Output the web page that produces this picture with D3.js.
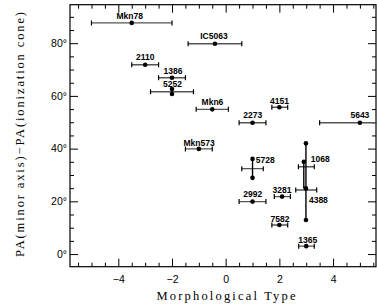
<!DOCTYPE html>
<html>
<head>
<meta charset="utf-8">
<script src="https://cdn.jsdelivr.net/npm/d3@7"></script>
<style>
  body { margin: 0; background: #fff; }
  svg { display: block; }
  .lbl { font-family: "Liberation Sans", Arial, sans-serif; font-weight: bold; font-size: 8.5px; }
  .tick text { font-family: "Liberation Sans", Arial, sans-serif; font-size: 10.5px; fill: #000; }
  .title { font-family: "Liberation Serif", "Times New Roman", serif; font-size: 12.5px; }
</style>
</head>
<body>
<svg id="chart" width="377" height="308"></svg>
<script>
// galaxy names and morphological type (x) with its range
var names  = ["Mkn78","IC5063","2110","1386","5252","Mkn6","4151","2273","5643","Mkn573","5728","1068","4388","2992","3281","7582","1365"];
var types  = [-3.5, -0.4, -3.0, -2.0, -2.0, -0.5, 2.0, 1.0, 5.0, -1.0, 1.0, 2.91, 2.99, 1.0, 2.1, 2.0, 3.0];
var typeLo = [-5.0, -1.4, -3.5, -2.5, -2.8, -1.1, 1.72, 0.5, 3.5, -1.5, 0.6, 2.71, 2.61, 0.5, 1.81, 1.72, 2.72];
var typeHi = [-2.0, 0.6, -2.5, -1.5, -1.2, 0.1, 2.31, 1.5, 6.5, -0.5, 1.4, 3.3, 3.39, 1.5, 2.41, 2.31, 3.3];
// PA difference (degrees): where the horizontal bar sits, and the dots
var paBar  = [87.7, 79.8, 71.8, 66.9, 61.6, 54.9, 55.7, 49.8, 49.8, 39.9, 32.4, 33.1, 24.3, 19.9, 21.8, 11.0, 3.0];
var paDots = [[87.7],[79.8],[71.8],[66.9],[62.6,60.7],[54.9],[55.7],[49.8],[49.8],[39.9],
              [36.1,28.9],[35.0],[42.0,24.9,12.9],[19.9],[21.8],[11.0],[3.0]];
var xTicks = [-4, -2, 0, 2, 4];
var yTicks = [0, 20, 40, 60, 80];

// label placement relative to the bar centre (pixels)
var labelPos = [[-2,-4.3,"middle"],[-1,-4.4,"middle"],[0,-4.6,"middle"],[1,-4,"middle"],[0.5,-5,"middle"],
  [0.2,-4.6,"middle"],[0.2,-3.6,"middle"],[0.3,-4.4,"middle"],[0,-4.4,"middle"],[0.2,-3.3,"middle"],
  [3.3,-5.4,"start"],[7,-4.4,"start"],[3,12.7,"start"],[0.3,-5,"middle"],[0,-3.4,"middle"],[0.7,-2.7,"middle"],[1.5,-3.3,"middle"]];

var svg = d3.select("#chart");
var mL = 70, mR = 376, mT = 4.7, mB = 266.7;

var x = d3.scaleLinear().domain([-5.8, 5.6]).range([mL, mR]);
var y = d3.scaleLinear().domain([-4.8, 94.6]).range([mB, mT]);

var xMinor = d3.range(-5.5, 5.51, 0.5).filter(function(d){ return d % 2 !== 0; });
var yMinor = d3.range(-0, 95, 5).filter(function(d){ return d % 20 !== 0; });

function styleAxis(g) {
  g.select(".domain").remove();
  g.selectAll(".tick line").attr("stroke", "#000").attr("stroke-width", 1);
}

// bottom
svg.append("g").attr("transform", "translate(0," + mB + ")")
  .call(d3.axisBottom(x).tickValues(xTicks).tickSizeInner(-8).tickPadding(9))
  .call(styleAxis);
svg.append("g").attr("transform", "translate(0," + mB + ")")
  .call(d3.axisBottom(x).tickValues(xMinor).tickSizeInner(-4).tickFormat(""))
  .call(styleAxis);
// top
svg.append("g").attr("transform", "translate(0," + mT + ")")
  .call(d3.axisTop(x).tickValues(xTicks).tickSizeInner(-8).tickFormat(""))
  .call(styleAxis);
svg.append("g").attr("transform", "translate(0," + mT + ")")
  .call(d3.axisTop(x).tickValues(xMinor).tickSizeInner(-4).tickFormat(""))
  .call(styleAxis);
// left
svg.append("g").attr("transform", "translate(" + mL + ",0)")
  .call(d3.axisLeft(y).tickValues(yTicks).tickSizeInner(-8).tickPadding(3)
    .tickFormat(function(d){ return d + "°"; }))
  .call(styleAxis);
svg.append("g").attr("transform", "translate(" + mL + ",0)")
  .call(d3.axisLeft(y).tickValues(yMinor).tickSizeInner(-4).tickFormat(""))
  .call(styleAxis);
// right
svg.append("g").attr("transform", "translate(" + mR + ",0)")
  .call(d3.axisRight(y).tickValues(yTicks).tickSizeInner(-8).tickFormat(""))
  .call(styleAxis);
svg.append("g").attr("transform", "translate(" + mR + ",0)")
  .call(d3.axisRight(y).tickValues(yMinor).tickSizeInner(-4).tickFormat(""))
  .call(styleAxis);

// frame
svg.append("rect").attr("x", mL).attr("y", mT)
  .attr("width", mR - mL).attr("height", mB - mT)
  .attr("fill", "none").attr("stroke", "#000").attr("stroke-width", 1.2);

svg.append("clipPath").attr("id", "clip").append("rect")
  .attr("x", mL).attr("y", mT).attr("width", mR - mL + 1).attr("height", mB - mT);

var plot = svg.append("g").attr("clip-path", "url(#clip)");
var idx = d3.range(names.length);

// horizontal error bars
plot.selectAll(".hbar").data(idx).enter().append("line")
  .attr("x1", function(i){ return x(typeLo[i]); })
  .attr("x2", function(i){ return x(typeHi[i]); })
  .attr("y1", function(i){ return y(paBar[i]); })
  .attr("y2", function(i){ return y(paBar[i]); })
  .attr("stroke", "#555").attr("stroke-width", 1.4);

// caps
var caps = [];
idx.forEach(function(i){ caps.push([typeLo[i], paBar[i]]); caps.push([typeHi[i], paBar[i]]); });
plot.selectAll(".cap").data(caps).enter().append("line")
  .attr("x1", function(d){ return x(d[0]); }).attr("x2", function(d){ return x(d[0]); })
  .attr("y1", function(d){ return y(d[1]) - 2.5; }).attr("y2", function(d){ return y(d[1]) + 2.5; })
  .attr("stroke", "#000").attr("stroke-width", 1.2);

// vertical ranges
var vIdx = idx.filter(function(i){ return paDots[i].length > 1 || paDots[i][0] !== paBar[i]; });
plot.selectAll(".vbar").data(vIdx).enter().append("line")
  .attr("x1", function(i){ return x(types[i]); }).attr("x2", function(i){ return x(types[i]); })
  .attr("y1", function(i){ return y(Math.max(d3.max(paDots[i]), paBar[i])); })
  .attr("y2", function(i){
    var lo = d3.min(paDots[i]);
    if (names[i] === "1068") lo = 24.9;
    return y(Math.min(lo, paBar[i]));
  })
  .attr("stroke", "#000").attr("stroke-width", 1.4);

// dots
var dots = [];
idx.forEach(function(i){ paDots[i].forEach(function(v){ dots.push([types[i], v]); }); });
plot.selectAll(".dot").data(dots).enter().append("circle")
  .attr("cx", function(d){ return x(d[0]); })
  .attr("cy", function(d){ return y(d[1]); })
  .attr("r", 2.3).attr("fill", "#000");

// labels
svg.selectAll(".lbl").data(idx).enter().append("text")
  .attr("class", "lbl")
  .attr("x", function(i){ return x(types[i]) + labelPos[i][0]; })
  .attr("y", function(i){ return y(paBar[i]) + labelPos[i][1]; })
  .attr("text-anchor", function(i){ return labelPos[i][2]; })
  .text(function(i){ return names[i]; });

// axis titles
svg.append("text").attr("class", "title")
  .attr("x", 226).attr("y", 300).attr("text-anchor", "middle")
  .attr("textLength", 139).attr("lengthAdjust", "spacing")
  .text("Morphological Type");
svg.append("text").attr("class", "title")
  .attr("transform", "translate(24,134.5) rotate(-90)")
  .attr("text-anchor", "middle")
  .attr("textLength", 245).attr("lengthAdjust", "spacing")
  .text("PA(minor axis)\u2212PA(ionization cone)");
</script>
</body>
</html>
